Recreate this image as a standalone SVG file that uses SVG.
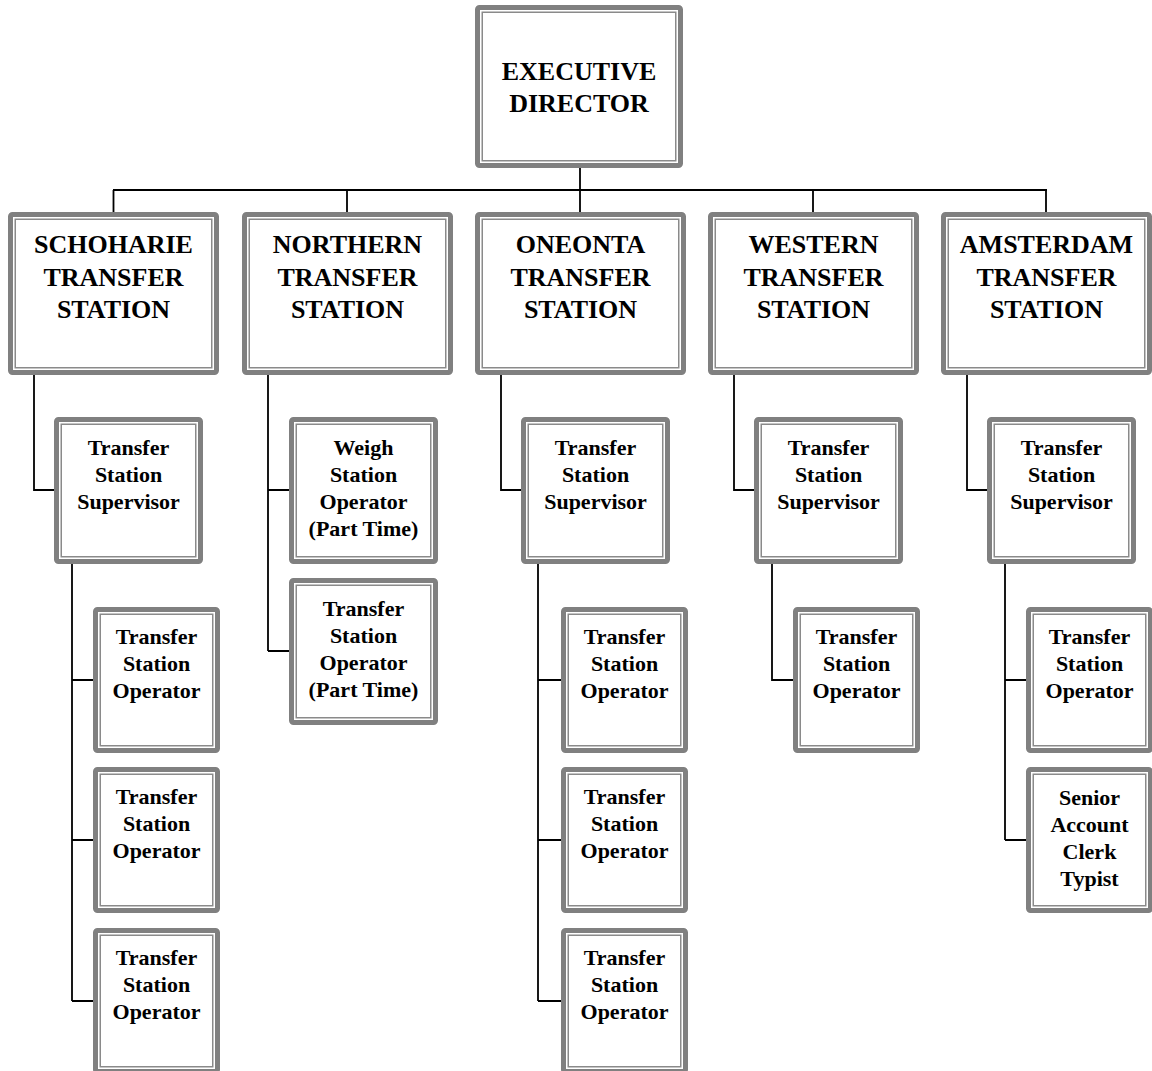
<svg xmlns="http://www.w3.org/2000/svg" width="1152" height="1071" viewBox="0 0 1152 1071">
<style>
.o{fill:#fff;stroke:#808080;stroke-width:5}
.i{fill:none;stroke:#8a8a8a;stroke-width:1.5}
.t{font-family:"Liberation Serif","Times New Roman",serif;font-weight:bold;fill:#000;text-anchor:middle}
.big{font-size:26px}
.sm{font-size:22px}
.c{fill:none;stroke:#000;stroke-width:1.8}
</style>
<rect width="1152" height="1071" fill="#fff"/>
<g id="connectors">
<path class="c" d="M580,168V190M113,190H1047M113.5,190V212M347,190V212M580,190V212M813,190V212M1046,190V212"/>
<path class="c" d="M34,375V490H54M72,564V1001M72,680H93M72,840H93M72,1001H93"/>
<path class="c" d="M268,375V651M268,490H289M268,651H289"/>
<path class="c" d="M501,375V490H521M538,564V1001M538,680H561M538,840H561M538,1001H561"/>
<path class="c" d="M734,375V490H754M772,564V680H793"/>
<path class="c" d="M967,375V490H987M1005,564V840M1005,680H1026M1005,840H1026"/>
</g>
<g id="exec"><rect class="o" x="477.5" y="7.5" width="203" height="158" rx="2"/><rect class="i" x="482.25" y="12.25" width="193.5" height="148.5"/><text class="t big"><tspan x="579" y="80">EXECUTIVE</tspan><tspan x="579" y="112">DIRECTOR</tspan></text></g>
<g id="schoharie"><rect class="o" x="10.5" y="214.5" width="206" height="158" rx="2"/><rect class="i" x="15.25" y="219.25" width="196.5" height="148.5"/><text class="t big"><tspan x="113.5" y="253">SCHOHARIE</tspan><tspan x="113.5" y="286">TRANSFER</tspan><tspan x="113.5" y="318">STATION</tspan></text></g>
<g id="northern"><rect class="o" x="244.5" y="214.5" width="206" height="158" rx="2"/><rect class="i" x="249.25" y="219.25" width="196.5" height="148.5"/><text class="t big"><tspan x="347.5" y="253">NORTHERN</tspan><tspan x="347.5" y="286">TRANSFER</tspan><tspan x="347.5" y="318">STATION</tspan></text></g>
<g id="oneonta"><rect class="o" x="477.5" y="214.5" width="206" height="158" rx="2"/><rect class="i" x="482.25" y="219.25" width="196.5" height="148.5"/><text class="t big"><tspan x="580.5" y="253">ONEONTA</tspan><tspan x="580.5" y="286">TRANSFER</tspan><tspan x="580.5" y="318">STATION</tspan></text></g>
<g id="western"><rect class="o" x="710.5" y="214.5" width="206" height="158" rx="2"/><rect class="i" x="715.25" y="219.25" width="196.5" height="148.5"/><text class="t big"><tspan x="813.5" y="253">WESTERN</tspan><tspan x="813.5" y="286">TRANSFER</tspan><tspan x="813.5" y="318">STATION</tspan></text></g>
<g id="amsterdam"><rect class="o" x="943.5" y="214.5" width="206" height="158" rx="2"/><rect class="i" x="948.25" y="219.25" width="196.5" height="148.5"/><text class="t big"><tspan x="1046.5" y="253">AMSTERDAM</tspan><tspan x="1046.5" y="286">TRANSFER</tspan><tspan x="1046.5" y="318">STATION</tspan></text></g>
<g id="sch-sup"><rect class="o" x="56.5" y="419.5" width="144" height="142" rx="2"/><rect class="i" x="61.25" y="424.25" width="134.5" height="132.5"/><text class="t sm"><tspan x="128.5" y="455">Transfer</tspan><tspan x="128.5" y="482">Station</tspan><tspan x="128.5" y="509">Supervisor</tspan></text></g>
<g id="sch-op1"><rect class="o" x="95.5" y="609.5" width="122" height="141" rx="2"/><rect class="i" x="100.25" y="614.25" width="112.5" height="131.5"/><text class="t sm"><tspan x="156.5" y="644">Transfer</tspan><tspan x="156.5" y="671">Station</tspan><tspan x="156.5" y="698">Operator</tspan></text></g>
<g id="sch-op2"><rect class="o" x="95.5" y="769.5" width="122" height="141" rx="2"/><rect class="i" x="100.25" y="774.25" width="112.5" height="131.5"/><text class="t sm"><tspan x="156.5" y="804">Transfer</tspan><tspan x="156.5" y="831">Station</tspan><tspan x="156.5" y="858">Operator</tspan></text></g>
<g id="sch-op3"><rect class="o" x="95.5" y="930.5" width="122" height="141" rx="2"/><rect class="i" x="100.25" y="935.25" width="112.5" height="131.5"/><text class="t sm"><tspan x="156.5" y="965">Transfer</tspan><tspan x="156.5" y="992">Station</tspan><tspan x="156.5" y="1019">Operator</tspan></text></g>
<g id="nor-weigh"><rect class="o" x="291.5" y="419.5" width="144" height="142" rx="2"/><rect class="i" x="296.25" y="424.25" width="134.5" height="132.5"/><text class="t sm"><tspan x="363.5" y="455">Weigh</tspan><tspan x="363.5" y="482">Station</tspan><tspan x="363.5" y="509">Operator</tspan><tspan x="363.5" y="536">(Part Time)</tspan></text></g>
<g id="nor-op"><rect class="o" x="291.5" y="580.5" width="144" height="142" rx="2"/><rect class="i" x="296.25" y="585.25" width="134.5" height="132.5"/><text class="t sm"><tspan x="363.5" y="616">Transfer</tspan><tspan x="363.5" y="643">Station</tspan><tspan x="363.5" y="670">Operator</tspan><tspan x="363.5" y="697">(Part Time)</tspan></text></g>
<g id="one-sup"><rect class="o" x="523.5" y="419.5" width="144" height="142" rx="2"/><rect class="i" x="528.25" y="424.25" width="134.5" height="132.5"/><text class="t sm"><tspan x="595.5" y="455">Transfer</tspan><tspan x="595.5" y="482">Station</tspan><tspan x="595.5" y="509">Supervisor</tspan></text></g>
<g id="one-op1"><rect class="o" x="563.5" y="609.5" width="122" height="141" rx="2"/><rect class="i" x="568.25" y="614.25" width="112.5" height="131.5"/><text class="t sm"><tspan x="624.5" y="644">Transfer</tspan><tspan x="624.5" y="671">Station</tspan><tspan x="624.5" y="698">Operator</tspan></text></g>
<g id="one-op2"><rect class="o" x="563.5" y="769.5" width="122" height="141" rx="2"/><rect class="i" x="568.25" y="774.25" width="112.5" height="131.5"/><text class="t sm"><tspan x="624.5" y="804">Transfer</tspan><tspan x="624.5" y="831">Station</tspan><tspan x="624.5" y="858">Operator</tspan></text></g>
<g id="one-op3"><rect class="o" x="563.5" y="930.5" width="122" height="141" rx="2"/><rect class="i" x="568.25" y="935.25" width="112.5" height="131.5"/><text class="t sm"><tspan x="624.5" y="965">Transfer</tspan><tspan x="624.5" y="992">Station</tspan><tspan x="624.5" y="1019">Operator</tspan></text></g>
<g id="wes-sup"><rect class="o" x="756.5" y="419.5" width="144" height="142" rx="2"/><rect class="i" x="761.25" y="424.25" width="134.5" height="132.5"/><text class="t sm"><tspan x="828.5" y="455">Transfer</tspan><tspan x="828.5" y="482">Station</tspan><tspan x="828.5" y="509">Supervisor</tspan></text></g>
<g id="wes-op"><rect class="o" x="795.5" y="609.5" width="122" height="141" rx="2"/><rect class="i" x="800.25" y="614.25" width="112.5" height="131.5"/><text class="t sm"><tspan x="856.5" y="644">Transfer</tspan><tspan x="856.5" y="671">Station</tspan><tspan x="856.5" y="698">Operator</tspan></text></g>
<g id="ams-sup"><rect class="o" x="989.5" y="419.5" width="144" height="142" rx="2"/><rect class="i" x="994.25" y="424.25" width="134.5" height="132.5"/><text class="t sm"><tspan x="1061.5" y="455">Transfer</tspan><tspan x="1061.5" y="482">Station</tspan><tspan x="1061.5" y="509">Supervisor</tspan></text></g>
<g id="ams-op"><rect class="o" x="1028.5" y="609.5" width="122" height="141" rx="2"/><rect class="i" x="1033.25" y="614.25" width="112.5" height="131.5"/><text class="t sm"><tspan x="1089.5" y="644">Transfer</tspan><tspan x="1089.5" y="671">Station</tspan><tspan x="1089.5" y="698">Operator</tspan></text></g>
<g id="ams-clerk"><rect class="o" x="1028.5" y="769.5" width="122" height="141" rx="2"/><rect class="i" x="1033.25" y="774.25" width="112.5" height="131.5"/><text class="t sm"><tspan x="1089.5" y="805">Senior</tspan><tspan x="1089.5" y="832">Account</tspan><tspan x="1089.5" y="859">Clerk</tspan><tspan x="1089.5" y="886">Typist</tspan></text></g>
</svg>
